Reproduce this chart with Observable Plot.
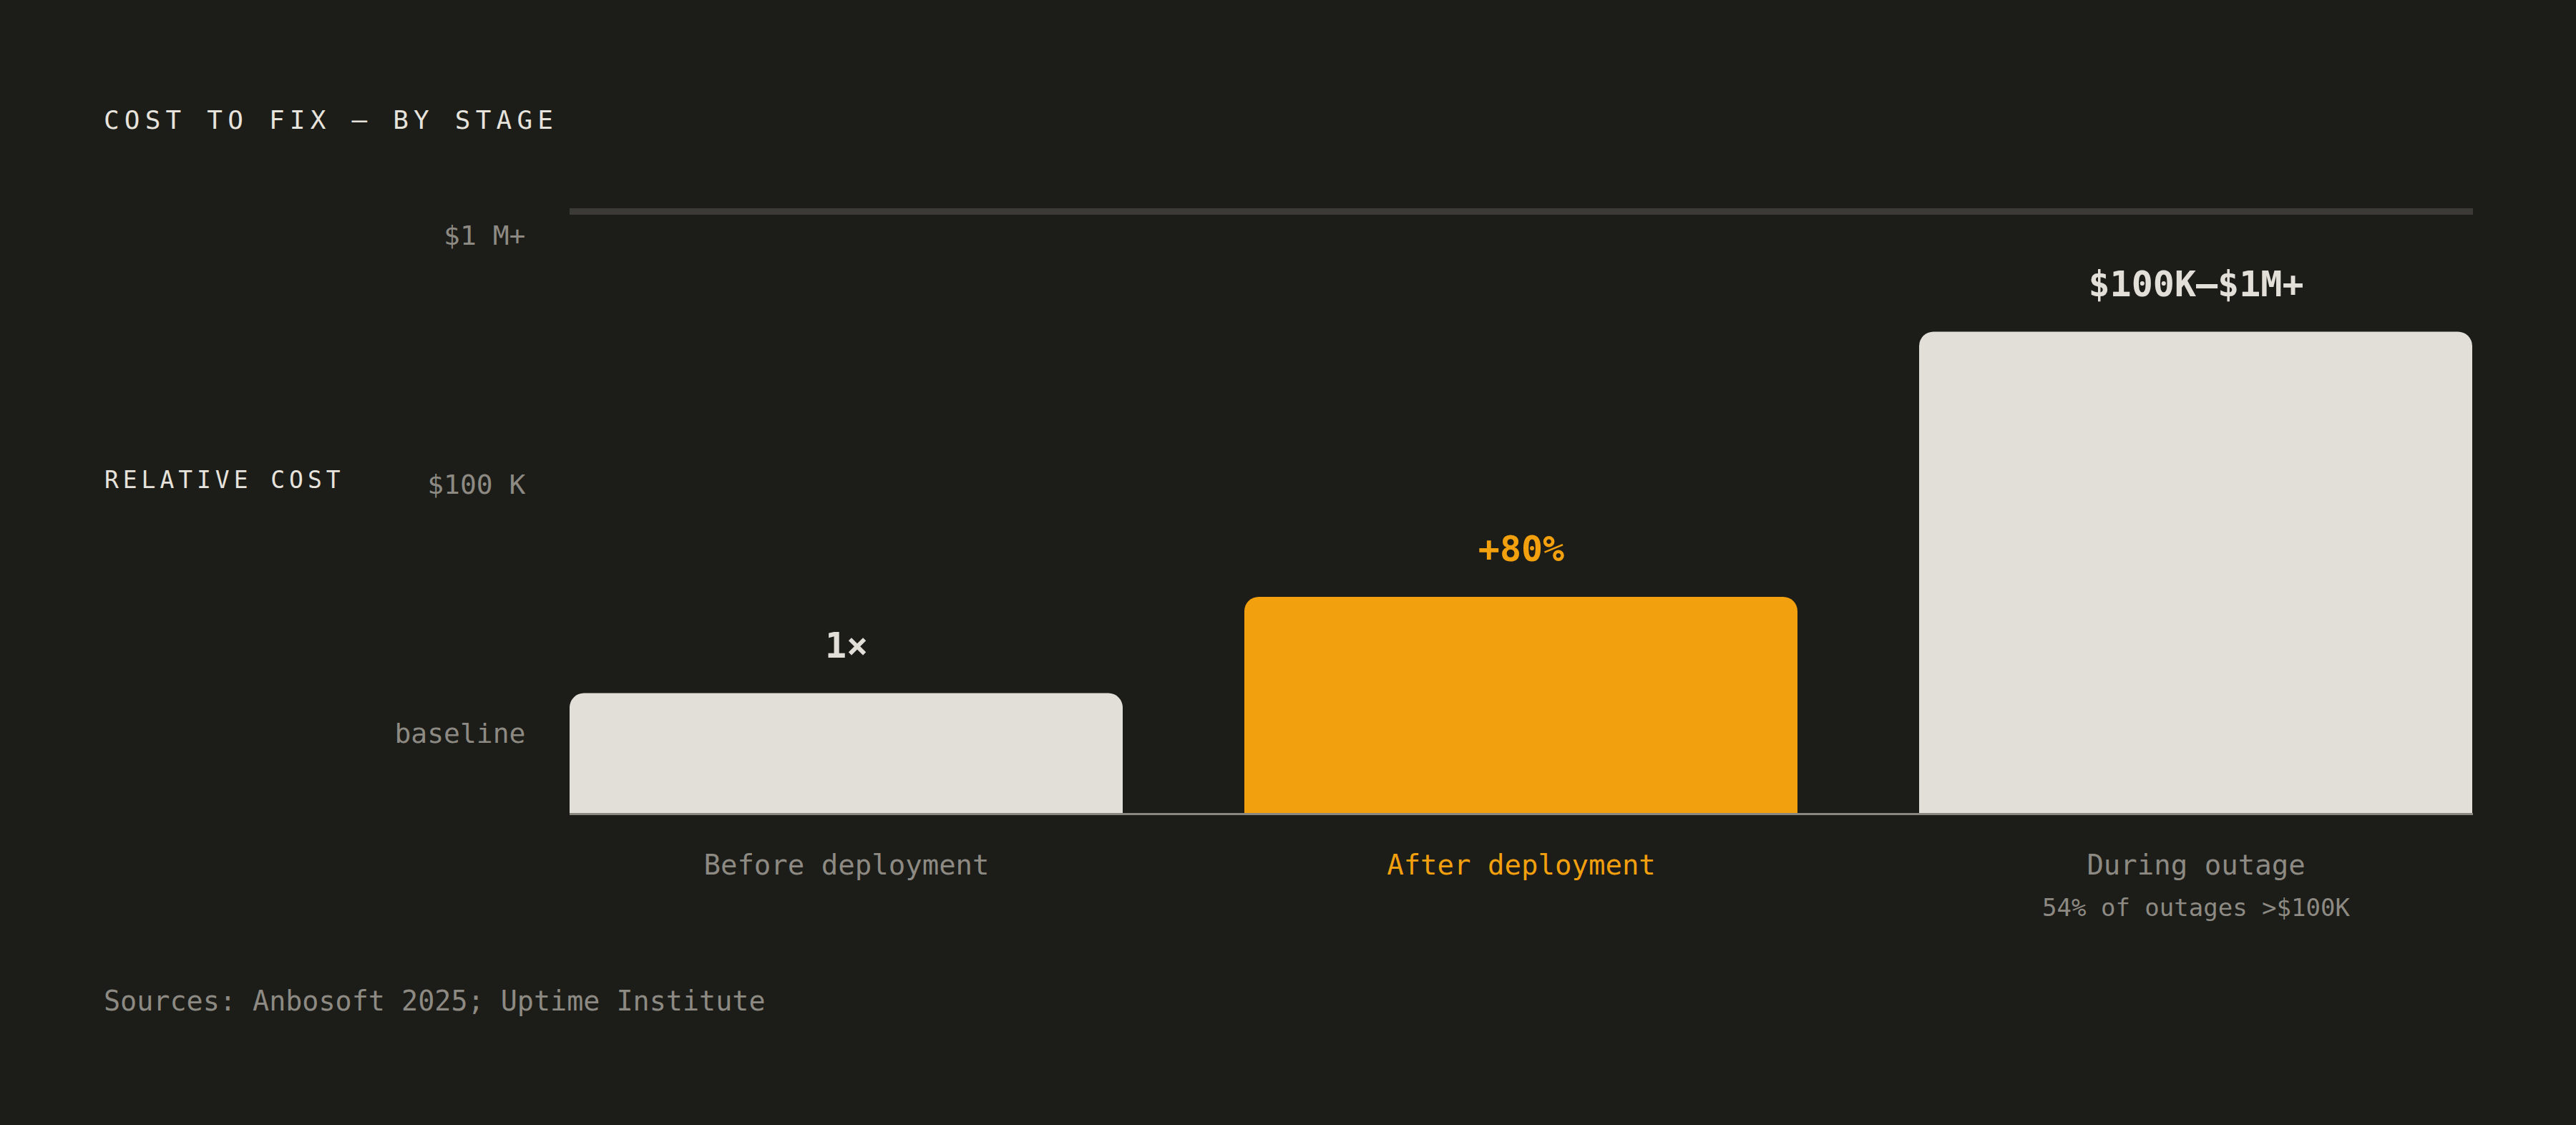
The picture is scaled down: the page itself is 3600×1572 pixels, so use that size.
<!DOCTYPE html>
<html>
<head>
<meta charset="utf-8">
<script src="https://cdn.jsdelivr.net/npm/d3@7"></script>
<script src="https://cdn.jsdelivr.net/npm/@observablehq/plot@0.6"></script>
<style>
html, body { margin: 0; padding: 0; background: #1c1c18; }
#wrap { position: relative; width: 3600px; height: 1572px; background: #1c1c18; font-family: "DejaVu Sans Mono", monospace; overflow: hidden; }
.t { position: absolute; white-space: nowrap; line-height: 1; }
#title { left: 145px; top: 150px; font-size: 36px; letter-spacing: 0.2em; color: #e6e2dc; }
#ylab { left: 146px; top: 654px; font-size: 33px; letter-spacing: 0.18em; color: #e6e2dc; }
#src { left: 145px; top: 1380px; font-size: 38.4px; color: #8d8a83; }
#chart { position: absolute; left: 0; top: 230px; }
</style>
</head>
<body>
<div id="wrap">
  <div id="title" class="t"></div>
  <div id="ylab" class="t"></div>
  <div id="chart"></div>
  <div id="src" class="t"></div>
</div>
<script>
// ---- data ----
const titleText = "COST TO FIX — BY STAGE";
const yAxisLabel = "RELATIVE COST";
const sourceText = "Sources: Anbosoft 2025; Uptime Institute";
const stages = ["Before deployment", "After deployment", "During outage"];
const costIndex = [20, 36, 80];
const valueLabels = ["1×", "+80%", "$100K–$1M+"];
const stageNotes = ["", "", "54% of outages >$100K"];
const highlighted = [false, true, false];
const yTickValues = [13.3, 54.6, 95.9];
const yTickLabels = ["baseline", "$100 K", "$1 M+"];
const yMax = 100;

// ---- colors ----
const LIGHT = "#e2ded8";
const ORANGE = "#f3a00e";
const GREY = "#8d8a83";

document.getElementById("title").textContent = titleText;
document.getElementById("ylab").textContent = yAxisLabel;
document.getElementById("src").textContent = sourceText;

const rows = stages.map((s, i) => ({
  stage: s, value: costIndex[i], label: valueLabels[i], note: stageNotes[i], hi: highlighted[i]
}));
const plain = rows.filter(d => !d.hi);
const hot = rows.filter(d => d.hi);

const chart = Plot.plot({
  width: 3600,
  height: 1090,
  marginTop: 65,
  marginBottom: 183,
  marginLeft: 796,
  marginRight: 144,
  style: { background: "transparent", fontFamily: "'DejaVu Sans Mono', monospace", color: GREY, overflow: "visible" },
  x: { domain: stages, paddingInner: 0.18, paddingOuter: 0, axis: null },
  y: { domain: [0, yMax], axis: null },
  marks: [
    Plot.ruleY([yMax], { stroke: "#3b3a36", strokeWidth: 9 }),
    Plot.barY(plain, { x: "stage", y: "value", fill: LIGHT, ry1: 20 }),
    Plot.barY(hot, { x: "stage", y: "value", fill: ORANGE, ry1: 20 }),
    Plot.ruleY([0], { stroke: "#8a877f", strokeWidth: 3 }),
    Plot.axisY(yTickValues, {
      tickSize: 0, tickPadding: 62, fontSize: 38, fill: GREY, label: null,
      tickFormat: d => yTickLabels[yTickValues.indexOf(d)]
    }),
    Plot.text(plain, { x: "stage", y: "value", text: "label", dy: -50, lineAnchor: "bottom", fontSize: 50, fontWeight: "bold", fill: LIGHT }),
    Plot.text(hot, { x: "stage", y: "value", text: "label", dy: -50, lineAnchor: "bottom", fontSize: 50, fontWeight: "bold", fill: ORANGE }),
    Plot.text(plain, { x: "stage", text: "stage", frameAnchor: "bottom", lineAnchor: "bottom", dy: 84, fontSize: 39, fill: GREY }),
    Plot.text(hot, { x: "stage", text: "stage", frameAnchor: "bottom", lineAnchor: "bottom", dy: 84, fontSize: 39, fill: ORANGE }),
    Plot.text(rows, { x: "stage", text: "note", frameAnchor: "bottom", lineAnchor: "bottom", dy: 142, fontSize: 34, fill: GREY })
  ]
});
document.getElementById("chart").appendChild(chart);
</script>
</body>
</html>
